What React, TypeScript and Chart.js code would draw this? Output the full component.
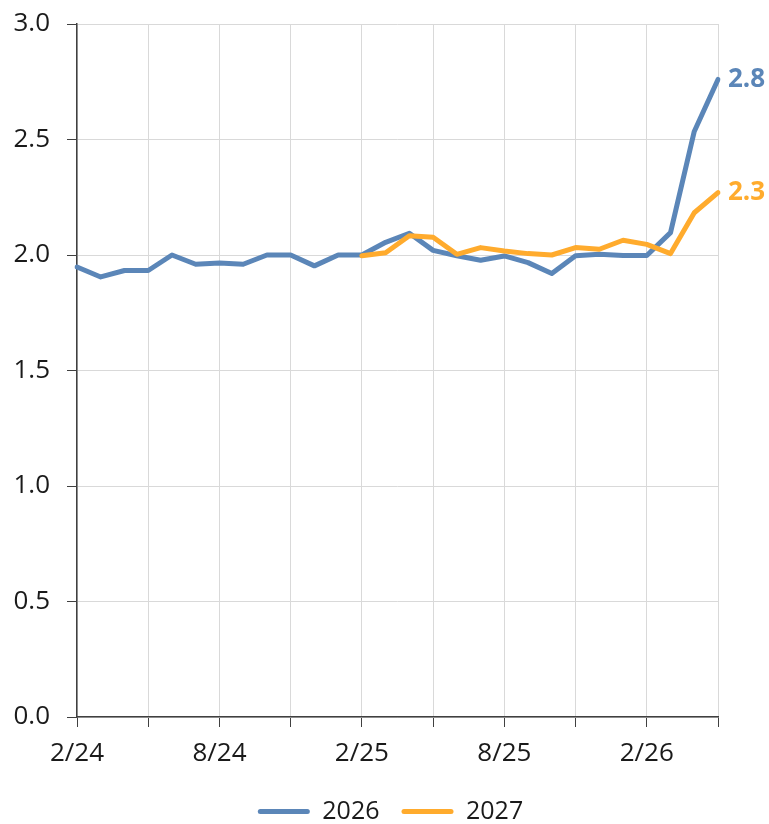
import React, { useEffect, useRef } from "react";
import { Chart, registerables } from "chart.js";

Chart.register(...registerables);

const months: string[] = [
  "2/24", "3/24", "4/24", "5/24", "6/24", "7/24", "8/24", "9/24", "10/24", "11/24", "12/24",
  "1/25", "2/25", "3/25", "4/25", "5/25", "6/25", "7/25", "8/25", "9/25", "10/25", "11/25", "12/25",
  "1/26", "2/26", "3/26", "4/26", "5/26",
];

const series2026: (number | null)[] = [
  1.948, 1.905, 1.933, 1.933, 2.0, 1.96, 1.965, 1.96, 2.0, 2.0, 1.953,
  2.0, 2.0, 2.055, 2.094, 2.02, 1.997, 1.977, 1.996, 1.967, 1.92, 1.997, 2.003,
  1.998, 1.998, 2.097, 2.535, 2.76,
];

const series2027: (number | null)[] = [
  null, null, null, null, null, null, null, null, null, null, null,
  null, 1.997, 2.01, 2.083, 2.077, 2.003, 2.032, 2.017, 2.006, 2.0, 2.032, 2.025,
  2.064, 2.046, 2.006, 2.183, 2.27,
];

const seriesNames: string[] = ["2026", "2027"];
const yTicks: number[] = [0, 0.5, 1.0, 1.5, 2.0, 2.5, 3.0];

const BLUE = "#5b86b8";
const ORANGE = "#ffab2d";
const FONT = "'Open Sans', 'Noto Sans', sans-serif";
const TEXT = "#1a1a1a";
const GRID = "#d9d9d9";
const AXIS = "#404040";

const endLabels = {
  id: "endLabels",
  afterDatasetsDraw(chart: any) {
    const ctx = chart.ctx;
    ctx.save();
    ctx.font = `bold 26px ${FONT}`;
    ctx.textAlign = "left";
    ctx.textBaseline = "middle";
    chart.data.datasets.forEach((ds: any, i: number) => {
      const meta = chart.getDatasetMeta(i);
      let last = -1;
      for (let k = ds.data.length - 1; k >= 0; k--) {
        if (ds.data[k] !== null && ds.data[k] !== undefined) { last = k; break; }
      }
      if (last < 0) return;
      const pt = meta.data[last];
      ctx.fillStyle = ds.borderColor;
      ctx.fillText(Number(ds.data[last]).toFixed(1), pt.x + 10, pt.y);
    });
    ctx.restore();
  },
};

export default function App() {
  const ref = useRef<HTMLCanvasElement | null>(null);

  useEffect(() => {
    document.body.style.margin = "0";
    if (!ref.current) return;
    const chart = new Chart(ref.current, {
      type: "line",
      data: {
        labels: months,
        datasets: [
          {
            label: seriesNames[0],
            data: series2026,
            borderColor: BLUE,
            backgroundColor: BLUE,
            borderWidth: 5,
            pointRadius: 0,
            tension: 0,
            borderJoinStyle: "round",
            borderCapStyle: "round",
            order: 1,
          },
          {
            label: seriesNames[1],
            data: series2027,
            borderColor: ORANGE,
            backgroundColor: ORANGE,
            borderWidth: 5,
            pointRadius: 0,
            tension: 0,
            borderJoinStyle: "round",
            borderCapStyle: "round",
            spanGaps: false,
            order: 0,
          },
        ],
      },
      options: {
        responsive: false,
        animation: false,
        layout: { padding: { left: 12, right: 0, top: 24, bottom: -10 } },
        scales: {
          x: {
            type: "category",
            offset: false,
            afterFit: (s: any) => { s.height = 60; },
            grid: {
              color: (c: any) => (c.index % 3 === 0 ? GRID : "transparent"),
              tickColor: (c: any) => (c.index % 3 === 0 ? AXIS : "transparent"),
              tickLength: 10,
              lineWidth: 1,
            },
            border: { color: AXIS, width: 1.5 },
            ticks: {
              autoSkip: false,
              maxRotation: 0,
              minRotation: 0,
              padding: 11,
              color: TEXT,
              font: { family: FONT, size: 26 },
              callback: (_v: any, i: number) => (i % 6 === 0 ? months[i] : ""),
            },
          },
          y: {
            min: 0,
            max: 3,
            afterFit: (s: any) => { s.width = 65; },
            afterBuildTicks: (s: any) => { s.ticks = yTicks.map((v) => ({ value: v })); },
            grid: { color: GRID, tickColor: AXIS, tickLength: 10, lineWidth: 1 },
            border: { color: AXIS, width: 1.5 },
            ticks: {
              padding: 17,
              color: TEXT,
              font: { family: FONT, size: 26, lineHeight: 0.5 },
              callback: (v: any) => Number(v).toFixed(1),
            },
          },
          yRight: {
            type: "linear",
            position: "right",
            display: true,
            afterFit: (s: any) => { s.width = 51; },
            grid: { display: false, drawTicks: false },
            border: { display: false },
            ticks: { display: false },
          },
        },
        plugins: {
          legend: {
            position: "bottom",
            labels: {
              boxWidth: 52,
              boxHeight: 5,
              padding: 22,
              color: TEXT,
              font: { family: FONT, size: 25 },
              useBorderRadius: true,
              borderRadius: 2.5,
              sort: (a: any, b: any) => a.datasetIndex - b.datasetIndex,
              generateLabels: (ch: any) =>
                Chart.defaults.plugins.legend.labels
                  .generateLabels(ch)
                  .map((l: any) => ({ ...l, lineWidth: 0, fillStyle: l.strokeStyle })),
            },
          },
          tooltip: { enabled: false },
        },
      },
      plugins: [endLabels],
    });
    return () => chart.destroy();
  }, []);

  return (
    <div style={{ width: 769, height: 824 }}>
      <canvas ref={ref} width={769} height={824} style={{ display: "block", width: 769, height: 824 }} />
    </div>
  );
}
